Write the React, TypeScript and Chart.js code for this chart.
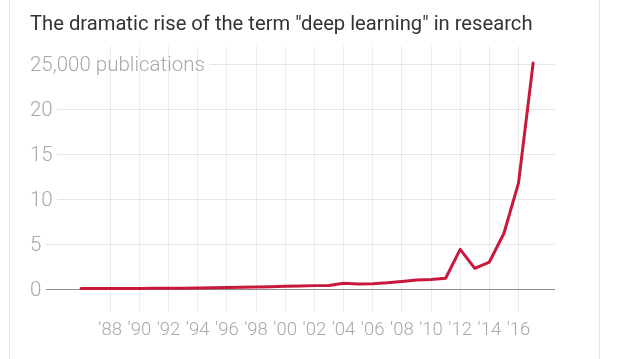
import React, { useEffect, useRef } from "react";
import { Chart, registerables } from "chart.js";

Chart.register(...registerables);

const years = [
  1986, 1987, 1988, 1989, 1990, 1991, 1992, 1993, 1994, 1995, 1996, 1997, 1998,
  1999, 2000, 2001, 2002, 2003, 2004, 2005, 2006, 2007, 2008, 2009, 2010, 2011,
  2012, 2013, 2014, 2015, 2016, 2017,
];
// thousands of publications
const publications = [
  0.05, 0.05, 0.05, 0.05, 0.05, 0.08, 0.1, 0.1, 0.12, 0.15, 0.18, 0.2, 0.22,
  0.25, 0.3, 0.35, 0.38, 0.4, 0.65, 0.55, 0.6, 0.7, 0.85, 1.0, 1.05, 1.2, 4.4,
  2.3, 3.0, 6.2, 11.8, 25.1,
];
const xTickYears = [1988, 1990, 1992, 1994, 1996, 1998, 2000, 2002, 2004, 2006, 2008, 2010, 2012, 2014, 2016];
const yTickValues = [0, 5, 10, 15, 20, 25];
const yTickLabels = ["0", "5", "10", "15", "20", "25,000 publications"];
const title = 'The dramatic rise of the term "deep learning" in research';

export default function App() {
  const ref = useRef<HTMLCanvasElement | null>(null);

  useEffect(() => {
    document.body.style.margin = "0";
    const canvas = ref.current;
    if (!canvas) return;

    const customPlugin = {
      id: "custom",
      beforeDatasetsDraw(chart: any) {
        const ctx = chart.ctx;
        const ys = chart.scales.y;
        ctx.save();
        ctx.font = "300 20.5px Roboto";
        ctx.textBaseline = "middle";
        ctx.textAlign = "left";
        yTickValues.forEach((v, i) => {
          const y = Math.round(ys.getPixelForValue(v)) + 0.5;
          const label = yTickLabels[i];
          const w = ctx.measureText(label).width;
          ctx.strokeStyle = v === 0 ? "#8f8f8f" : "#e6e6e6";
          ctx.lineWidth = 1;
          ctx.beginPath();
          ctx.moveTo(30 + w + 4.5, y);
          ctx.lineTo(chart.chartArea.right, y);
          ctx.stroke();
          ctx.fillStyle = "#a8a8a8";
          ctx.fillText(label, 30, y + 1);
        });
        ctx.restore();
      },
      afterDraw(chart: any) {
        const ctx = chart.ctx;
        ctx.save();
        ctx.font = "400 20.2px Roboto";
        ctx.fillStyle = "#333333";
        ctx.textBaseline = "alphabetic";
        ctx.textAlign = "left";
        ctx.fillText(title, 30, 30);
        ctx.restore();
      },
    };

    const chart = new Chart(canvas, {
      type: "line",
      data: {
        datasets: [
          {
            data: years.map((yr, i) => ({ x: yr, y: publications[i] })),
            borderColor: "#c8193c",
            borderWidth: 3,
            pointRadius: 0,
            tension: 0,
            borderJoinStyle: "round",
            borderCapStyle: "round",
          },
        ],
      },
      options: {
        animation: false,
        responsive: false,
        events: [],
        layout: { padding: { left: 30, right: 65, top: 46, bottom: 17 } },
        plugins: { legend: { display: false }, tooltip: { enabled: false } },
        scales: {
          x: {
            type: "linear",
            min: 1982.5,
            max: 2018.5,
            afterBuildTicks: (axis: any) => {
              axis.ticks = xTickYears.map((v) => ({ value: v }));
            },
            afterFit: (axis: any) => {
              axis.height = 30;
            },
            border: { display: false },
            grid: { color: "#ececec", drawTicks: false, lineWidth: 1 },
            ticks: {
              padding: 7,
              maxRotation: 0,
              autoSkip: false,
              color: "#a8a8a8",
              font: { family: "Roboto", size: 18.5, weight: "300" },
              callback: (v: any) => "'" + String(Number(v) % 100).padStart(2, "0"),
            },
          },
          y: {
            type: "linear",
            min: -2.55,
            max: 27,
            display: false,
          },
        },
      },
      plugins: [customPlugin],
    });
    return () => chart.destroy();
  }, []);

  return (
    <div style={{ position: "relative", width: 620, height: 359, background: "#fff" }}>
      <div
        style={{
          position: "absolute",
          left: 9,
          top: 0,
          width: 589,
          height: 359,
          borderLeft: "1px solid #e6e6e6",
          borderRight: "1px solid #e6e6e6",
        }}
      />
      <canvas ref={ref} width={620} height={359} style={{ position: "relative", display: "block" }} />
    </div>
  );
}
